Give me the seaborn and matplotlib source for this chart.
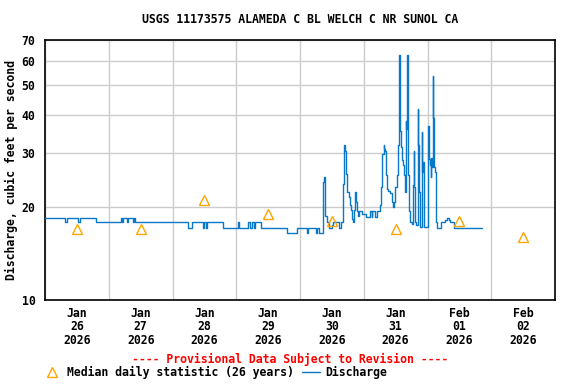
import pandas as pd
import matplotlib.pyplot as plt
import matplotlib.dates as mdates
from matplotlib.lines import Line2D
from matplotlib.ticker import FixedLocator, NullLocator
import seaborn as sns

# Discharge readings, hours after 2026-01-26 00:00 (step series)
flow_hours = [0, 7.5, 8.25, 12.5, 13, 19.25, 28.5, 29, 29.5, 31, 31.25, 33, 33.5, 34,
              54, 55.5, 59.5, 60, 60.5, 61, 67, 72.5, 73, 76.5, 77.25, 77.75, 78.75, 79,
              81.5, 91, 94.75, 98.75, 99, 102, 102.5, 103,
              104.5, 104.75, 105, 105.25, 105.5, 106, 106.75, 108, 108.5, 110.75, 111.25,
              112.25, 112.75, 113, 113.25, 113.75, 114.5, 114.75, 115.25, 115.75, 116,
              116.5, 116.75, 117, 117.5, 117.75, 118.25, 119.25, 121, 122.25, 123, 123.25,
              124.25, 125, 126, 126.5, 126.75, 127.5, 127.75, 128, 128.25, 128.75, 129.25,
              130, 130.5, 131, 131.5, 131.75, 132.5, 132.75, 133, 133.25, 133.5, 133.75,
              134, 134.5, 134.75, 135.25, 135.5, 135.75, 136, 136.25, 136.5, 136.75, 137,
              137.25, 137.5, 138, 138.5, 138.75, 139, 139.25, 139.5, 140.25, 140.5, 140.75,
              141, 141.25, 141.75, 142, 142.25, 142.5, 142.75, 144.25, 144.75, 145, 145.25,
              145.5, 145.75, 146, 146.25, 146.5, 147, 147.25, 147.5, 149.25, 150.5, 151.5,
              152, 152.5, 154, 164.5]
flow_cfs = [18.5, 17.9, 18.5, 17.9, 18.5, 17.9, 18.5, 17.9, 18.5, 17.9, 18.5, 17.9, 18.5, 17.9,
            17.2, 17.9, 17.2, 17.9, 17.2, 17.9, 17.2, 17.9, 17.2, 17.9, 17.2, 17.9, 17.2, 17.9,
            17.2, 16.5, 17.2, 16.5, 17.2, 16.5, 17.2, 16.5,
            20.3, 24.2, 25.1, 19.4, 18.8, 17.9, 17.2, 17.5, 17.9, 17.2, 17.9,
            23.8, 31.8, 30.5, 25.6, 22.4, 21.6, 20.3, 19.6, 18.4, 17.9,
            19.6, 22.5, 20.9, 19.4, 18.8, 19.4, 19.0, 18.6, 19.4, 18.6, 19.4,
            18.6, 19.4, 20.4, 23.3, 29.9, 31.8, 31.0, 30.5, 25.4, 23.0, 22.6,
            22.2, 20.9, 20.0, 20.9, 23.3, 25.5, 29.9, 31.8, 62.7, 48.0, 35.5,
            31.5, 28.5, 27.5, 25.5, 22.4, 38.3, 36.0, 62.7, 31.8, 25.5, 19.4,
            18.2, 17.9, 17.6, 23.6, 30.6, 23.3, 17.9, 17.5, 41.7, 31.8, 22.4,
            17.9, 17.3, 35.1, 26.0, 28.0, 17.9, 17.3, 36.9, 28.8, 27.5, 25.1,
            29.0, 27.0, 53.6, 39.1, 27.0, 26.0, 17.9, 17.2, 17.9, 18.2, 18.5,
            18.2, 17.9, 17.2, 17.2]

# Median daily statistic (26 years), one per day
median_days = ['2026-01-26', '2026-01-27', '2026-01-28', '2026-01-29',
               '2026-01-30', '2026-01-31', '2026-02-01', '2026-02-02']
median_cfs = [17.0, 17.0, 21.1, 19.1, 18.0, 17.0, 18.0, 16.0]

y_ticks = [10, 20, 30, 40, 50, 60, 70]

t0 = pd.Timestamp('2026-01-26')
flow = pd.DataFrame({'time': t0 + pd.to_timedelta(flow_hours, unit='h'), 'cfs': flow_cfs})
med = pd.DataFrame({'time': pd.to_datetime(median_days) + pd.Timedelta(hours=12), 'cfs': median_cfs})

sns.set_theme(style='white')
plt.rcParams['font.family'] = ['DejaVu Sans Mono']
plt.rcParams['font.weight'] = 'bold'
plt.rcParams['font.size'] = 8.3
for key in ['text.color', 'axes.labelcolor', 'xtick.color', 'ytick.color']:
    plt.rcParams[key] = 'black'

blue = '#0a78c8'
orange = '#ffa500'

fig = plt.figure(figsize=(5.76, 3.84), dpi=100)
ax = fig.add_axes([45/576, 1-300/384, 510/576, 260/384])

sns.lineplot(data=flow, x='time', y='cfs', drawstyle='steps-post', color=blue,
             lw=1.0, estimator=None, ax=ax, zorder=3)
sns.lineplot(data=med, x='time', y='cfs', linestyle='none', marker='^', markersize=7.5,
             markerfacecolor='none', markeredgecolor=orange, markeredgewidth=1.0,
             estimator=None, ax=ax, zorder=4)

ax.set_yscale('log')
ax.set_ylim(10, 70)
ax.yaxis.set_major_locator(FixedLocator(y_ticks))
ax.yaxis.set_minor_locator(NullLocator())
ax.set_yticklabels([str(v) for v in y_ticks])

ax.set_xlim(t0, t0 + pd.Timedelta(days=8))
ax.xaxis.set_major_locator(mdates.HourLocator(byhour=[12]))
ax.xaxis.set_minor_locator(mdates.DayLocator())
ax.xaxis.set_major_formatter(mdates.DateFormatter('%b\n%d\n%Y'))

ax.grid(False)
ax.grid(True, which='minor', axis='x', color='#cccccc', lw=1.0)
ax.grid(True, which='major', axis='y', color='#cccccc', lw=1.0)
ax.tick_params(axis='both', which='both', length=0, labelsize=8.3)
ax.tick_params(axis='x', pad=5)
ax.tick_params(axis='y', pad=7)
for lab in ax.get_xticklabels():
    lab.set_linespacing(1.05)

for s in ax.spines.values():
    s.set_color('black')
    s.set_linewidth(1.2)

ax.set_xlabel('')
ax.set_ylabel('Discharge, cubic feet per second', fontsize=8.3, fontweight='bold')
ax.yaxis.set_label_coords(-0.052, 0.5)
ax.set_title('USGS 11173575 ALAMEDA C BL WELCH C NR SUNOL CA', fontsize=8.3,
             fontweight='bold', pad=12)

fig.text(290/576, 1-359/384, '---- Provisional Data Subject to Revision ----',
         color='red', ha='center', va='center', fontsize=8.3, fontweight='bold')

handles = [Line2D([], [], linestyle='none', marker='^', markersize=7.5,
                  markerfacecolor='none', markeredgecolor=orange, markeredgewidth=1.0),
           Line2D([], [], color=blue, lw=1.0)]
fig.legend(handles, ['Median daily statistic (26 years)', 'Discharge'],
           loc='center left', bbox_to_anchor=(43.8/576, 1-372.7/384), ncol=2,
           frameon=False, borderpad=0, borderaxespad=0, handlelength=1.5,
           handletextpad=0.5, columnspacing=0.75, fontsize=8.3)

fig.savefig('out.png', dpi=100)
